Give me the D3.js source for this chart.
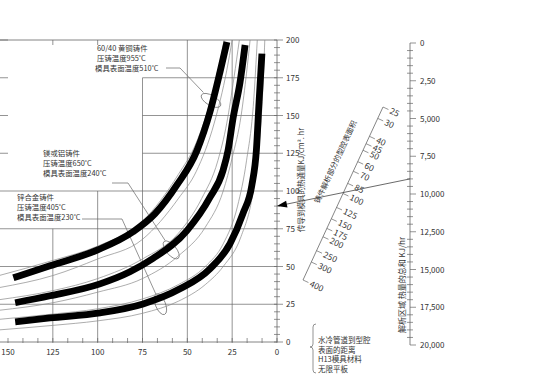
<!DOCTYPE html>
<html>
<head>
<meta charset="utf-8">
<script src="https://cdnjs.cloudflare.com/ajax/libs/d3/7.8.5/d3.min.js"></script>
<style>
body { margin: 0; background: #fff; }
svg text { font-family: "Noto Sans CJK SC", "Noto Sans", sans-serif; fill: #333; }
</style>
</head>
<body>
<svg id="chart" width="550" height="389"></svg>
<script>

// ---- data ----
var distTicks = [150, 125, 100, 75, 50, 25, 0];
var fluxTicks = [0, 25, 50, 75, 100, 125, 150, 175, 200];
var totalTicks = [0, 2500, 5000, 7500, 10000, 12500, 15000, 17500, 20000];
var totalLabels = ["0", "2,50", "5,000", "7,50", "10,000", "12,500", "15,000", "17,500", "20,000"];
var areaTicks = [25, 30, 40, 45, 50, 60, 70, 85, 100, 125, 150, 175, 200, 250, 300, 400];

// thick curves (distance mm, heat flux)
var brassDist = [147, 126.6, 100, 80.3, 68, 55.8, 44.6, 37.4, 31.8, 27.9];
var brassFlux = [42.5, 50.5, 61, 73, 85, 104, 126.9, 152.2, 178.7, 198.7];
var mgDist = [146, 126.6, 98.7, 82, 69.2, 50.2, 37.4, 30.1, 27.3, 24.5, 20.6, 17.8];
var mgFlux = [26, 30.6, 38.5, 46.5, 55.3, 73.8, 95.7, 113.6, 126.9, 148.2, 172.1, 196.7];
var znDist = [146, 126.6, 98.7, 74.7, 54.1, 37.4, 26.2, 19, 14, 11.5, 10, 8.4];
var znFlux = [13.3, 15.9, 19.3, 25.2, 35.2, 48.5, 65.1, 85, 104, 127, 159, 191];

// thin companion curves
var brassHiDist = [155, 125, 100, 75, 55, 45, 37, 31, 29.5];
var brassHiFlux = [44, 54, 63.5, 80, 111, 132, 160, 190, 200];
var brassLoDist = [155, 125, 100, 75, 55, 45, 35, 28, 25];
var brassLoFlux = [36, 44, 55, 68, 95, 113, 145, 180, 200];
var mgHiDist = [155, 125, 100, 75, 55, 42, 33, 28, 24, 21];
var mgHiFlux = [28, 34, 42, 55, 72, 95, 120, 145, 175, 200];
var mgLoDist = [155, 125, 100, 75, 55, 40, 30, 25, 20, 17, 15];
var mgLoFlux = [21, 26, 33, 42, 57, 76, 100, 122, 150, 178, 200];
var znHiDist = [155, 125, 100, 75, 55, 40, 30, 22, 17, 13, 11];
var znHiFlux = [15, 18.5, 22, 28.5, 38, 50, 65, 90, 120, 160, 200];
var znLoDist = [155, 125, 100, 75, 55, 40, 30, 20, 14, 10, 8, 6.8];
var znLoFlux = [8, 11, 14, 19, 27, 38, 50, 70, 95, 130, 165, 200];

// worked example drawn across the nomogram
var exampleFlux = 90, exampleTotal = 9000;

var castLabels = [
    ["60/40 黄铜铸件", "压铸温度955˚C", "模具表面温度510˚C"],
    ["镁或铝铸件", "压铸温度650˚C", "模具表面温度240˚C"],
    ["锌合金铸件", "压铸温度405˚C", "模具表面温度230˚C"]
];
var loopDist = [36.8, 59, 65];
var loopFlux = [160, 61, 25];

var noteLines = ["水冷管道到型腔", "表面的距离", "H13模具材料", "无限平板"];

// ---- scales ----
var svg = d3.select("#chart");
var x = d3.scaleLinear().domain([150, 0]).range([8, 277]);
var y = d3.scaleLinear().domain([0, 200]).range([342, 40]);
var yTot = d3.scaleLinear().domain([0, 20000]).range([43, 345]);
var areaPos = d3.scaleLog().domain([25, 400]).range([0, 1]);
var areaA = [383, 107], areaB = [303, 280];
var totX = 410, fluxX = x(0);

var gridColor = "#666";

function hline(g, x1, x2, yy, w) {
    g.append("line").attr("x1", x1).attr("x2", x2).attr("y1", yy).attr("y2", yy)
        .attr("stroke", gridColor).attr("stroke-width", w || 0.7);
}
function vline(g, xx, y1, y2, w) {
    g.append("line").attr("x1", xx).attr("x2", xx).attr("y1", y1).attr("y2", y2)
        .attr("stroke", gridColor).attr("stroke-width", w || 0.7);
}

// ---- grid of left chart ----
var grid = svg.append("g");
// vertical grid: [distance, top flux]
[[125, 75], [100, 100], [75, 175], [50, 200], [25, 200]].forEach(function (d) {
    vline(grid, x(d[0]), y(d[1]), y(0));
});
// horizontal grid: [flux, left distance]
[[175, 75], [150, 75], [125, 75], [100, 155], [75, 155], [50, 155], [25, 155]].forEach(function (d) {
    hline(grid, Math.max(0, x(d[1])), fluxX, y(d[0]));
});
hline(grid, 0, fluxX, y(200), 0.8);
[125, 100].forEach(function (d) { vline(grid, x(d), y(200), y(200) + 5); });
[200, 175, 150, 125].forEach(function (d) { hline(grid, 0, 8, y(d)); });

// bottom axis
hline(grid, 0, fluxX, y(0), 0.8);
d3.range(0, 19).forEach(function (i) {
    var v = i * 25 / 3;
    vline(grid, x(v), y(0) - 4, y(0) + 1);
});
svg.append("g").selectAll("text").data(distTicks).enter().append("text")
    .attr("x", function (d) { return x(d); })
    .attr("y", y(0) + 13)
    .attr("text-anchor", "middle")
    .attr("font-size", 8)
    .text(function (d) { return d; });

// flux axis
vline(grid, fluxX, y(200), y(0), 0.8);
d3.range(0, 201, 5).forEach(function (v) {
    var major = v % 25 === 0;
    hline(grid, fluxX - 3, fluxX + (major ? 6 : 3), y(v));
});
svg.append("g").selectAll("text").data(fluxTicks).enter().append("text")
    .attr("x", fluxX + 9)
    .attr("y", function (d) { return y(d) + 3; })
    .attr("font-size", 8)
    .text(function (d) { return d; });
svg.append("text")
    .attr("transform", "translate(304,180) rotate(-90)")
    .attr("text-anchor", "middle")
    .attr("font-size", 7.5)
    .text("传导到模具的热通量KJ/cm². hr");

// total heat axis
vline(grid, totX, yTot(0), yTot(20000), 0.8);
d3.range(0, 20001, 500).forEach(function (v) {
    var major = v % 2500 === 0;
    hline(grid, totX - (major ? 0 : 3), totX + (major ? 6 : 3), yTot(v));
});
svg.append("g").selectAll("text").data(totalTicks).enter().append("text")
    .attr("x", totX + 10)
    .attr("y", function (d) { return yTot(d) + 3; })
    .attr("font-size", 8)
    .text(function (d, i) { return totalLabels[i]; });
svg.append("text")
    .attr("transform", "translate(405,285) rotate(-90)")
    .attr("text-anchor", "middle")
    .attr("font-size", 8)
    .text("解析区域 热量的总和 KJ/hr");

// ---- slanted area scale ----
var dx = areaB[0] - areaA[0], dy = areaB[1] - areaA[1];
var len = Math.sqrt(dx * dx + dy * dy);
var nx = -dy / len, ny = dx / len;      // perpendicular to the scale
if (nx < 0) { nx = -nx; ny = -ny; }
var tickAngle = Math.atan2(ny, nx) * 180 / Math.PI;

function areaPoint(v) {
    var t = areaPos(v);
    return [areaA[0] + dx * t, areaA[1] + dy * t];
}
var area = svg.append("g");
area.append("line").attr("x1", areaA[0]).attr("y1", areaA[1]).attr("x2", areaB[0]).attr("y2", areaB[1])
    .attr("stroke", gridColor).attr("stroke-width", 0.8);
area.selectAll(".atick").data(areaTicks).enter().append("line")
    .attr("x1", function (d) { return areaPoint(d)[0]; })
    .attr("y1", function (d) { return areaPoint(d)[1]; })
    .attr("x2", function (d) { return areaPoint(d)[0] + nx * 6; })
    .attr("y2", function (d) { return areaPoint(d)[1] + ny * 6; })
    .attr("stroke", gridColor).attr("stroke-width", 0.7);
area.selectAll("text").data(areaTicks).enter().append("text")
    .attr("transform", function (d) {
        var p = areaPoint(d);
        return "translate(" + (p[0] + nx * 8) + "," + (p[1] + ny * 8) + ") rotate(" + tickAngle + ")";
    })
    .attr("dy", "0.35em")
    .attr("font-size", 8.5)
    .text(function (d) { return d; });
svg.append("text")
    .attr("transform", "translate(338,163) rotate(" + (Math.atan2(-dy, -dx) * 180 / Math.PI) + ")")
    .attr("text-anchor", "middle")
    .attr("font-size", 7.5)
    .text("铸件解析部分的型腔表面积");

// ---- curves ----
var line = d3.line()
    .x(function (d) { return x(d[0]); })
    .y(function (d) { return y(d[1]); })
    .curve(d3.curveMonotoneX);

var thin = [
    [brassHiDist, brassHiFlux], [brassLoDist, brassLoFlux],
    [mgHiDist, mgHiFlux], [mgLoDist, mgLoFlux],
    [znHiDist, znHiFlux], [znLoDist, znLoFlux]
];
var curves = svg.append("g");
curves.selectAll(".thin").data(thin).enter().append("path")
    .attr("d", function (d) { return line(d3.zip(d[0], d[1])); })
    .attr("fill", "none")
    .attr("stroke", "#8a8a8a")
    .attr("stroke-width", 0.7);

// leaders and loops
var labelX = [95, 43, 17], labelY = [48, 153, 197];
var leaderStart = [[166, 68, 180], [112, 183, 128], [82, 219, 122]];
var loopRot = [-60, -40, -22];
var notes = svg.append("g");
castLabels.forEach(function (lines, i) {
    lines.forEach(function (t, j) {
        notes.append("text")
            .attr("x", labelX[i] + (i === 0 && j < 2 ? 2 : 0))
            .attr("y", labelY[i] + j * 10 + 3)
            .attr("font-size", 7.4)
            .text(t);
    });
    var cx = x(loopDist[i]), cy = y(loopFlux[i]);
    var s = leaderStart[i];
    var ex = cx - s[2], ey = cy - s[1];
    var el = Math.sqrt(ex * ex + ey * ey);
    notes.append("polyline")
        .attr("points", [[s[0], s[1]], [s[2], s[1]], [cx - ex / el * 11, cy - ey / el * 11]].join(" "))
        .attr("fill", "none").attr("stroke", "#666").attr("stroke-width", 0.7);
    notes.append("ellipse")
        .attr("cx", cx).attr("cy", cy).attr("rx", 5).attr("ry", 11)
        .attr("transform", "rotate(" + loopRot[i] + "," + cx + "," + cy + ")")
        .attr("fill", "none").attr("stroke", "#666").attr("stroke-width", 0.7);
});

var thick = [[brassDist, brassFlux], [mgDist, mgFlux], [znDist, znFlux]];
curves.selectAll(".thick").data(thick).enter().append("path")
    .attr("d", function (d) { return line(d3.zip(d[0], d[1])); })
    .attr("fill", "none")
    .attr("stroke", "#000")
    .attr("stroke-width", 6.8);
curves.raise();

// ---- index line with arrow ----
var A = [fluxX, y(exampleFlux)], B = [totX, yTot(exampleTotal)];
var ix = B[0] - A[0], iy = B[1] - A[1], il = Math.sqrt(ix * ix + iy * iy);
ix /= il; iy /= il;
svg.append("line").attr("x1", A[0] + ix * 6).attr("y1", A[1] + iy * 6).attr("x2", B[0]).attr("y2", B[1])
    .attr("stroke", "#444").attr("stroke-width", 0.8);
svg.append("polygon")
    .attr("points", [A, [A[0] + ix * 10 - iy * 3.5, A[1] + iy * 10 + ix * 3.5],
        [A[0] + ix * 10 + iy * 3.5, A[1] + iy * 10 - ix * 3.5]].join(" "))
    .attr("fill", "#000");

// ---- bottom note with brace ----
svg.append("path")
    .attr("d", "M316,324 Q313,324 313,327 L313,344 Q313,347 310,347 Q313,347 313,350 L313,370 Q313,373 316,373")
    .attr("fill", "none").attr("stroke", "#666").attr("stroke-width", 0.7);
svg.append("g").selectAll("text").data(noteLines).enter().append("text")
    .attr("x", 318)
    .attr("y", function (d, i) { return 343 + i * 9.5; })
    .attr("font-size", 7.5)
    .text(function (d) { return d; });

</script>
</body>
</html>
